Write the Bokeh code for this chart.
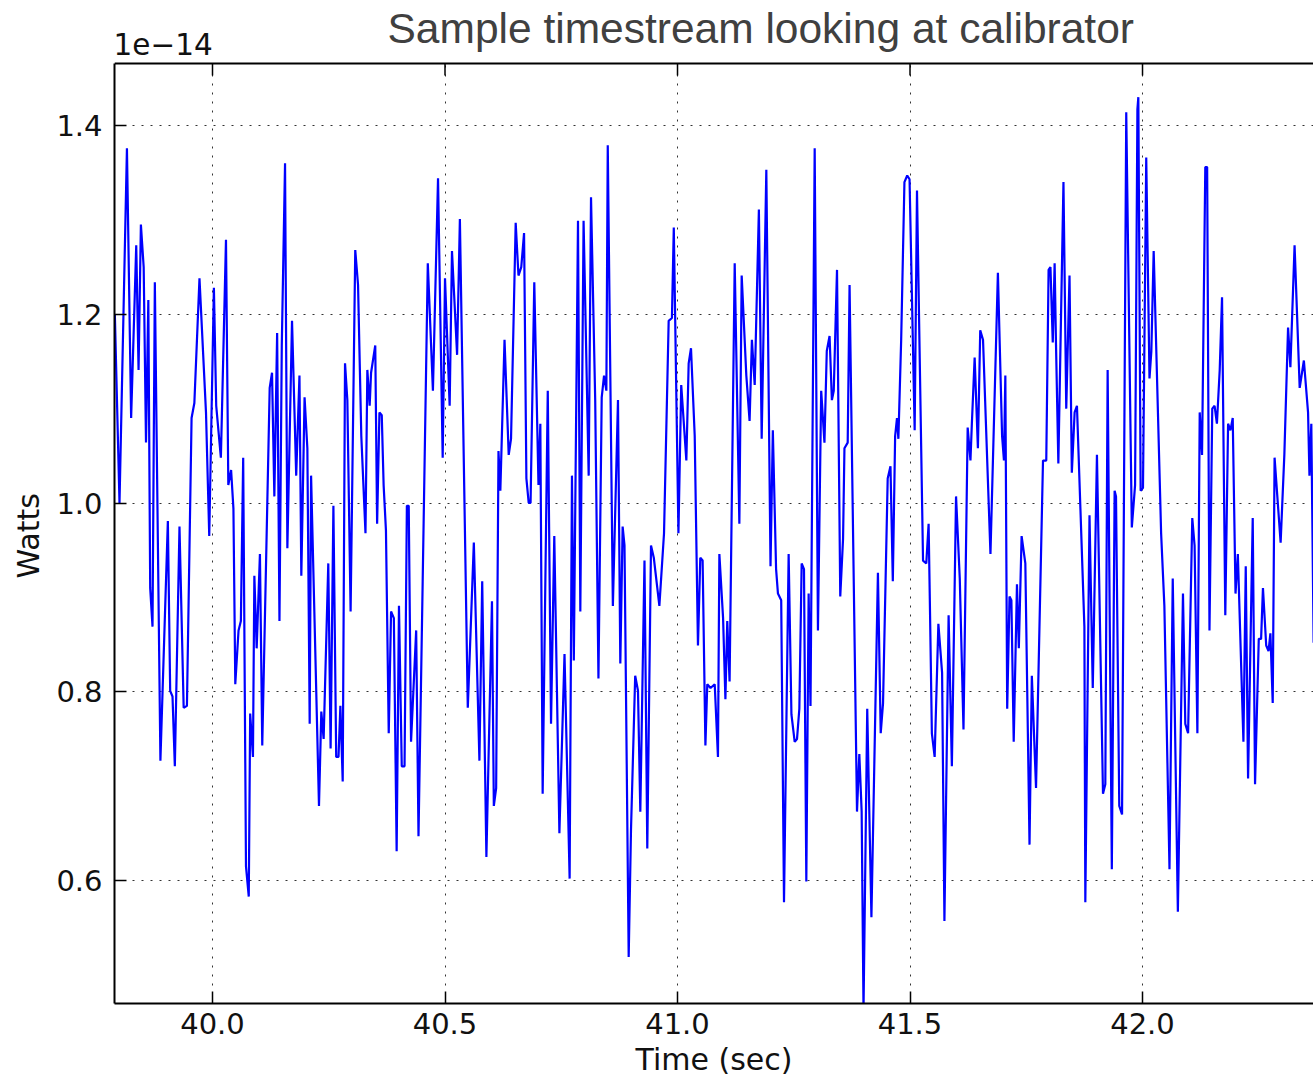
from bokeh.plotting import figure
from bokeh.models import FixedTicker, PrintfTickFormatter, Label, Range1d, Span, Grid, Title
from bokeh.embed import file_html
from bokeh.resources import INLINE

# ---- data ----
time_sec = [
    39.790, 39.800, 39.816, 39.825, 39.836, 39.841, 39.846, 39.852, 39.857, 39.862,
    39.866, 39.871, 39.876, 39.888, 39.904, 39.909, 39.914, 39.919, 39.929, 39.938,
    39.945, 39.955, 39.961, 39.972, 39.986, 39.993, 40.003, 40.008, 40.018, 40.029,
    40.034, 40.040, 40.045, 40.049, 40.056, 40.061, 40.066, 40.072, 40.078, 40.081,
    40.087, 40.090, 40.095, 40.102, 40.107,
    40.123, 40.128, 40.133, 40.139, 40.144, 40.149, 40.156, 40.161, 40.171, 40.180,
    40.187, 40.191, 40.198, 40.204, 40.209, 40.212, 40.229, 40.234, 40.239, 40.249,
    40.254, 40.260, 40.266, 40.271, 40.275, 40.280, 40.285, 40.290, 40.297, 40.307,
    40.313, 40.320, 40.329, 40.333, 40.338, 40.341, 40.350, 40.354, 40.359, 40.364,
    40.368, 40.373, 40.379, 40.384, 40.390, 40.396, 40.401, 40.407, 40.413, 40.418,
    40.422, 40.427,
    40.438, 40.443, 40.452, 40.463, 40.474, 40.485, 40.495, 40.500, 40.510, 40.515,
    40.526, 40.532, 40.549, 40.562, 40.574, 40.580, 40.589, 40.601, 40.605, 40.610,
    40.615, 40.619, 40.628, 40.637, 40.642, 40.652, 40.658, 40.664, 40.670, 40.675,
    40.680, 40.684, 40.692, 40.701, 40.705, 40.710, 40.721, 40.728, 40.735, 40.746,
    40.757, 40.768, 40.773, 40.777, 40.786, 40.791, 40.798, 40.809, 40.814, 40.823,
    40.830, 40.837, 40.842, 40.847, 40.850, 40.861, 40.872, 40.877, 40.882, 40.886,
    40.895, 40.900, 40.909, 40.915, 40.920, 40.929, 40.935, 40.943, 40.949, 40.961,
    40.971, 40.981, 40.988, 40.992, 41.002, 41.008, 41.019, 41.024, 41.029, 41.037,
    41.044, 41.049, 41.054, 41.060, 41.064, 41.071,
    41.080, 41.087, 41.090, 41.098, 41.103, 41.107, 41.112, 41.123, 41.133, 41.138,
    41.148, 41.155, 41.160, 41.166, 41.175, 41.181, 41.191, 41.200, 41.205, 41.212,
    41.216, 41.223, 41.229, 41.239, 41.245, 41.252, 41.257, 41.262, 41.267, 41.272,
    41.277, 41.282, 41.286, 41.295, 41.302, 41.309, 41.316, 41.321, 41.327, 41.332,
    41.336, 41.343, 41.350, 41.356, 41.359, 41.366, 41.370, 41.386, 41.391, 41.396,
    41.400,
    41.408, 41.417, 41.431, 41.437, 41.442, 41.452, 41.458, 41.463, 41.468, 41.472,
    41.475, 41.481, 41.488, 41.494, 41.499, 41.510, 41.515, 41.528, 41.535, 41.540,
    41.543, 41.547, 41.553, 41.561, 41.569, 41.574, 41.583, 41.590, 41.599, 41.607,
    41.615, 41.624, 41.630, 41.633, 41.639, 41.646, 41.651, 41.657, 41.673, 41.689,
    41.698, 41.702, 41.705, 41.709, 41.714, 41.718, 41.723,
    41.730, 41.734, 41.740, 41.748, 41.757, 41.762, 41.771, 41.786, 41.793, 41.798,
    41.802, 41.807, 41.811, 41.814, 41.819, 41.830, 41.836, 41.843, 41.848, 41.854,
    41.859, 41.875, 41.877, 41.886, 41.893, 41.902, 41.915, 41.920, 41.925, 41.934,
    41.940, 41.943, 41.950, 41.956, 41.965, 41.977, 41.984, 41.989, 41.991, 41.996,
    42.001, 42.008, 42.015, 42.019, 42.024, 42.040,
    42.047, 42.058, 42.065, 42.076, 42.087, 42.092, 42.098, 42.107, 42.112, 42.118,
    42.123, 42.128, 42.135, 42.139, 42.144, 42.150, 42.155, 42.160, 42.166, 42.171,
    42.178, 42.184, 42.189, 42.194, 42.200, 42.205, 42.217, 42.222, 42.227, 42.237,
    42.242, 42.250, 42.255, 42.259, 42.266, 42.271, 42.275, 42.280, 42.284, 42.297,
    42.305, 42.313, 42.318, 42.327, 42.338, 42.347, 42.356, 42.359, 42.363, 42.368,
]

# power in units of 1e-14 W
watts_e14 = [
    1.200, 1.000, 1.376, 1.090, 1.273, 1.141, 1.295, 1.250, 1.064, 1.215,
    0.910, 0.869, 1.234, 0.727, 0.981, 0.801, 0.795, 0.721, 0.975, 0.783,
    0.785, 1.090, 1.106, 1.238, 1.096, 0.965, 1.228, 1.103, 1.048, 1.279,
    1.019, 1.035, 0.994, 0.808, 0.865, 0.875, 1.048, 0.615, 0.583, 0.777,
    0.731, 0.923, 0.846, 0.946, 0.743,
    1.122, 1.138, 1.007, 1.180, 0.875, 1.167, 1.360, 0.952, 1.193, 1.029,
    1.135, 0.923, 1.112, 1.058, 0.766, 1.029, 0.679, 0.779, 0.750, 0.936,
    0.740, 0.997, 0.731, 0.731, 0.785, 0.705, 1.148, 1.109, 0.885, 1.268,
    1.231, 1.071, 0.968, 1.141, 1.103, 1.138, 1.167, 0.978, 1.096, 1.093,
    1.019, 0.971, 0.756, 0.885, 0.878, 0.631, 0.891, 0.721, 0.721, 0.997,
    0.997, 0.747,
    0.865, 0.647, 0.917, 1.254, 1.119, 1.344, 1.048, 1.238, 1.103, 1.267,
    1.157, 1.301, 0.783, 0.958, 0.727, 0.917, 0.625, 0.896, 0.679, 0.698,
    1.055, 1.013, 1.173, 1.051, 1.068, 1.297, 1.241, 1.250, 1.286, 1.026,
    1.000, 1.000, 1.234, 1.019, 1.084, 0.692, 1.119, 0.766, 0.965, 0.650,
    0.840, 0.602, 1.029, 0.833, 1.299, 0.885, 1.299, 1.029, 1.324, 1.109,
    0.814, 1.112, 1.135, 1.119, 1.379, 0.891, 1.109, 0.830, 0.975, 0.955,
    0.519, 0.654, 0.817, 0.801, 0.673, 0.939, 0.634, 0.955, 0.942, 0.891,
    0.968, 1.193, 1.196, 1.292, 0.968, 1.125, 1.045, 1.148, 1.164, 1.071,
    0.849, 0.942, 0.939, 0.743, 0.808, 0.804,
    0.808, 0.731, 0.946, 0.878, 0.792, 0.875, 0.811, 1.254, 0.978, 1.241,
    1.135, 1.087, 1.173, 1.125, 1.311, 1.068, 1.353, 0.933, 1.077, 0.930,
    0.904, 0.897, 0.577, 0.946, 0.776, 0.747, 0.750, 0.782, 0.936, 0.930,
    0.599, 0.904, 0.785, 1.376, 0.865, 1.119, 1.064, 1.161, 1.177, 1.109,
    1.119, 1.247, 0.901, 0.962, 1.058, 1.064, 1.231, 0.673, 0.734, 0.673,
    0.462,
    0.782, 0.561, 0.926, 0.756, 0.788, 1.026, 1.039, 0.917, 1.071, 1.090,
    1.068, 1.173, 1.340, 1.347, 1.343, 1.077, 1.331, 0.939, 0.936, 0.978,
    0.885, 0.756, 0.731, 0.872, 0.820, 0.557, 0.881, 0.721, 1.007, 0.920,
    0.760, 1.080, 1.045, 1.084, 1.154, 1.058, 1.183, 1.173, 0.946, 1.244,
    1.071, 1.045, 1.135, 0.782, 0.901, 0.897, 0.747,
    0.914, 0.846, 0.965, 0.936, 0.638, 0.817, 0.698, 1.045, 1.045, 1.247,
    1.250, 1.170, 1.254, 1.167, 1.042, 1.340, 1.100, 1.241, 1.032, 1.096,
    1.103, 0.869, 0.577, 0.987, 0.804, 1.051, 0.692, 0.702, 1.141, 0.612,
    1.013, 1.007, 0.679, 0.670, 1.414, 0.974, 1.019, 1.417, 1.430, 1.013,
    1.016, 1.366, 1.132, 1.161, 1.267, 0.968,
    0.891, 0.612, 0.920, 0.567, 0.904, 0.766, 0.756, 0.984, 0.955, 0.756,
    1.096, 1.051, 1.356, 1.356, 0.865, 1.100, 1.103, 1.084, 1.141, 1.218,
    0.881, 1.084, 1.077, 1.090, 0.904, 0.946, 0.747, 0.933, 0.708, 0.984,
    0.702, 0.856, 0.856, 0.910, 0.849, 0.843, 0.862, 0.788, 1.048, 0.958,
    1.051, 1.186, 1.144, 1.273, 1.122, 1.151, 1.096, 1.029, 1.084, 0.852,
]

x_ticks = [40.0, 40.5, 41.0, 41.5, 42.0]
y_ticks = [0.6, 0.8, 1.0, 1.2, 1.4]
title_text = "Sample timestream looking at calibrator"
x_label = "Time (sec)"
y_label = "Watts"
offset_text = "1e\u221214"

# axes limits of the plotting box
X_START, X_END = 39.78925, 42.3677
Y_BOTTOM, Y_TOP = 0.46967, 1.4657
PX_PER_Y = 943.75           # pixels per unit on y
FRAME_H = 1003              # frame reaches the top of the canvas (room for title)
Y_FRAME_TOP = Y_BOTTOM + FRAME_H / PX_PER_Y

TICK_FONT = "DejaVu Sans"

p = figure(
    frame_width=1199, frame_height=FRAME_H,
    min_border_left=114, min_border_right=0, min_border_top=0, min_border_bottom=75,
    x_range=Range1d(X_START, X_END), y_range=Range1d(Y_BOTTOM, Y_FRAME_TOP),
    output_backend="svg", toolbar_location=None,
)
p.outline_line_color = None
p.background_fill_color = "white"
p.border_fill_color = "white"

# grid (dotted), limited to the plotting box
p.xgrid.ticker = FixedTicker(ticks=x_ticks)
p.ygrid.ticker = FixedTicker(ticks=y_ticks)
for g in (p.xgrid, p.ygrid):
    g.grid_line_color = "black"
    g.grid_line_alpha = 0.8
    g.grid_line_width = 1
    g.grid_line_dash = "2 7"
has_cross = "cross_bounds" in Grid.properties()
if has_cross:
    p.xgrid.cross_bounds = (Y_BOTTOM, Y_TOP)
else:
    p.quad(left=X_START, right=X_END, bottom=Y_TOP, top=Y_FRAME_TOP,
           fill_color="white", line_color=None)

p.line(time_sec, watts_e14, line_color="#0000ff", line_width=2.2)

def style_axis(ax, ticks):
    ax.ticker = FixedTicker(ticks=ticks)
    ax.formatter = PrintfTickFormatter(format="%.1f")
    ax.axis_line_color = "black"
    ax.axis_line_width = 2
    ax.major_tick_in = 12
    ax.major_tick_out = 0
    ax.major_tick_line_color = "black"
    ax.major_tick_line_width = 1.5
    ax.minor_tick_line_color = None
    ax.major_label_text_font = TICK_FONT
    ax.major_label_text_font_size = "29px"
    ax.major_label_text_color = "#111111"
    ax.axis_label_text_font = TICK_FONT
    ax.axis_label_text_font_size = "30px"
    ax.axis_label_text_font_style = "normal"
    ax.axis_label_text_color = "#111111"

xa = p.xaxis[0]
style_axis(xa, x_ticks)
xa.major_label_standoff = 9
xa.axis_label = x_label
xa.axis_label_standoff = 5

ya = p.yaxis[0]
style_axis(ya, y_ticks)
ya.bounds = (Y_BOTTOM, Y_TOP)
ya.major_label_standoff = 12

# y label as a side title so it can be centred on the plotting box
ytitle = Title(text=y_label, align="left", offset=425, standoff=16,
               text_font=TICK_FONT, text_font_size="30px", text_font_style="normal",
               text_color="#111111")
p.add_layout(ytitle, "left")

# top border of the plotting box and its inward ticks
p.add_layout(Span(location=Y_TOP, dimension="width", line_color="black", line_width=2))
tick_len = 12 / PX_PER_Y
p.segment(x0=x_ticks, y0=[Y_TOP] * len(x_ticks), x1=x_ticks,
          y1=[Y_TOP - tick_len] * len(x_ticks), line_color="black", line_width=1.5)

title = Label(x=273, y=FRAME_H - 28, x_units="screen", y_units="screen", text=title_text,
              text_font="Liberation Sans", text_font_size="42.5px",
              text_color="#404040", text_align="left", text_baseline="alphabetic")
offset = Label(x=-1, y=FRAME_H - 43, x_units="screen", y_units="screen", text=offset_text,
               text_font=TICK_FONT, text_font_size="29.5px",
               text_color="#111111", text_align="left", text_baseline="alphabetic")
p.add_layout(title)
p.add_layout(offset)

open("out.html", "w").write(file_html(p, INLINE))
